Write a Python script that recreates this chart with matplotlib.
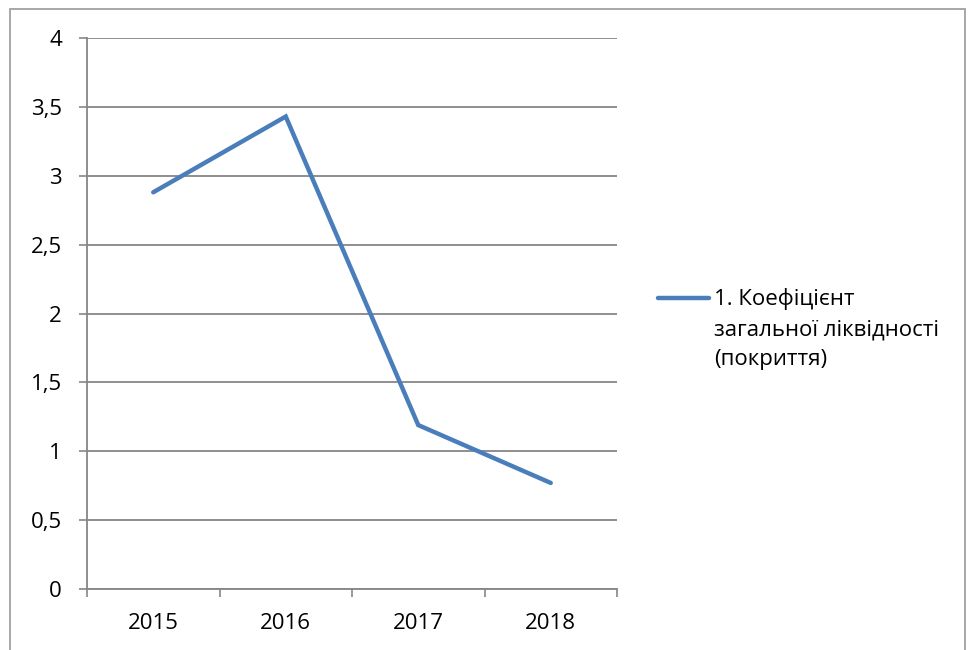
import matplotlib.pyplot as plt
from matplotlib.lines import Line2D
from matplotlib.patches import Rectangle

years = ['2015', '2016', '2017', '2018']
values = [2.88, 3.43, 1.19, 0.77]
y_ticks = [0, 0.5, 1, 1.5, 2, 2.5, 3, 3.5, 4]
y_labels = ['0', '0,5', '1', '1,5', '2', '2,5', '3', '3,5', '4']
legend_label = '1. Коефіцієнт\nзагальної ліквідності\n(покриття)'

plt.rcParams['font.family'] = ['Open Sans', 'DejaVu Sans']
grid_col = '#868686'
line_col = '#4a7ebb'
fs = 16

fig = plt.figure(figsize=(9.71, 6.5), dpi=100)
ax = fig.add_axes([87 / 971, 61 / 650, 530 / 971, 551 / 650])

x = list(range(len(years)))
ax.plot(x, values, color=line_col, lw=3.2, solid_capstyle='round', solid_joinstyle='miter')

ax.set_xlim(-0.5, len(years) - 0.5)
ax.set_ylim(0, 4)
ax.set_yticks(y_ticks)
ax.set_yticklabels(y_labels, fontsize=fs)
ax.set_xticks(x)
ax.set_xticklabels(years, fontsize=fs)
ax.set_xticks([i - 0.5 for i in range(len(years) + 1)], minor=True)
ax.tick_params(axis='x', which='major', length=0, pad=17)
ax.tick_params(axis='x', which='minor', length=6, color=grid_col, width=1.2)
ax.tick_params(axis='y', length=6, color=grid_col, width=1.2, pad=12)
ax.yaxis.grid(True, color=grid_col, lw=1.3)
ax.set_axisbelow(True)
for s in ['top', 'right']:
    ax.spines[s].set_visible(False)
for s in ['left', 'bottom']:
    ax.spines[s].set_color(grid_col)
    ax.spines[s].set_linewidth(1.3)

# legend on the right
fig.add_artist(Line2D([658 / 971, 709 / 971], [1 - 298 / 650, 1 - 298 / 650],
                      color=line_col, lw=3.2, solid_capstyle='round'))
fig.text(714 / 971, 1 - 288 / 650, legend_label, fontsize=fs, va='top', ha='left',
         linespacing=1.57)

# outer chart frame
fig.add_artist(Rectangle((10 / 971, -0.1), 955 / 971, 1.1 - 9 / 650, transform=fig.transFigure,
                         fill=False, edgecolor='#a0a0a0', lw=1.3))

fig.savefig('out.png', dpi=100)
